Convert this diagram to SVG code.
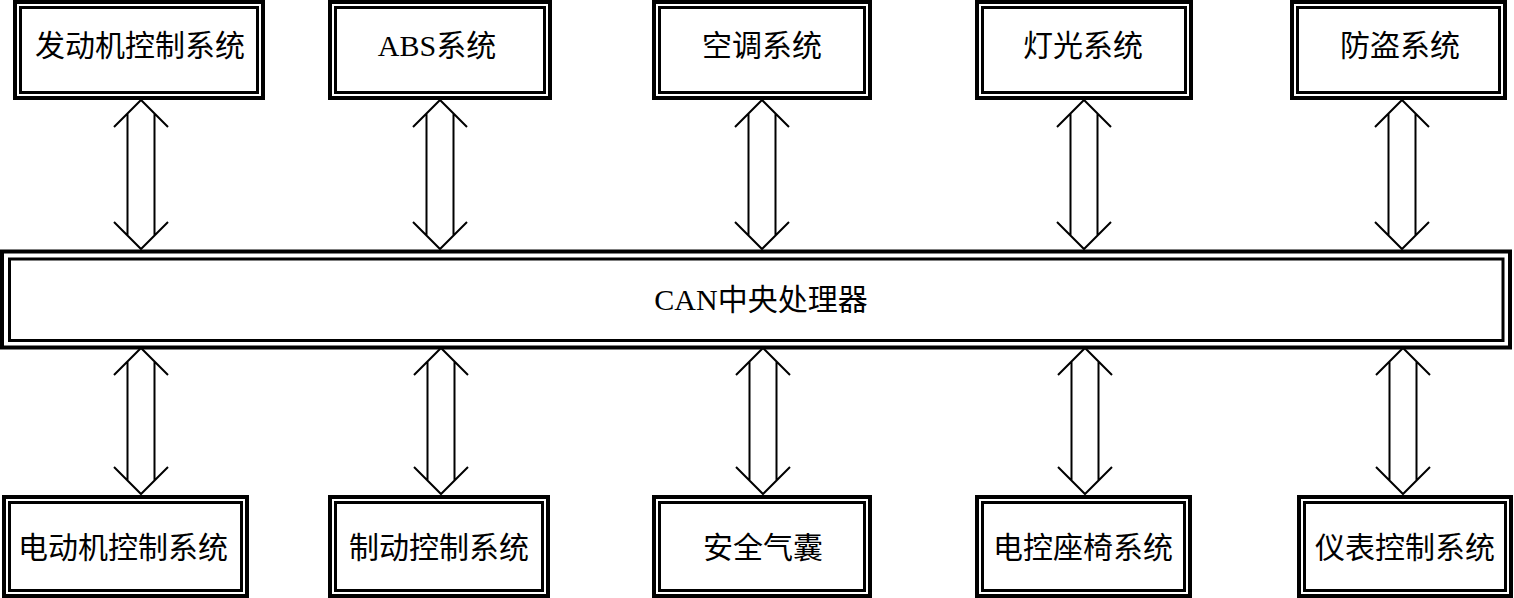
<svg xmlns="http://www.w3.org/2000/svg" width="1514" height="598" viewBox="0 0 1514 598">
<style>
.o{fill:#fff;stroke:#000;stroke-width:4}
.i{fill:none;stroke:#000;stroke-width:3}
.t{font-family:"Liberation Serif","Noto Sans CJK SC",serif;font-size:30px;fill:#000;text-anchor:middle;dominant-baseline:central}
.a{fill:none;stroke:#000;stroke-width:2}
</style>
<defs>
<path id="arrT" d="M-27,127 L0,100 L27,127 M-13.5,113.5 V235.5 M13.5,113.5 V235.5 M-27,222 L0,249 L27,222"/>
<path id="arrB" d="M-27,375 L0,348 L27,375 M-13.5,361.5 V480.5 M13.5,361.5 V480.5 M-27,467 L0,494 L27,467"/>
</defs>
<rect width="1514" height="598" fill="#fff"/>
<g id="connectors" class="a">
<use href="#arrT" x="141"/>
<use href="#arrT" x="440"/>
<use href="#arrT" x="762"/>
<use href="#arrT" x="1084"/>
<use href="#arrT" x="1402"/>
<use href="#arrB" x="141"/>
<use href="#arrB" x="441"/>
<use href="#arrB" x="763"/>
<use href="#arrB" x="1085"/>
<use href="#arrB" x="1403"/>
</g>
<g id="can">
<rect class="o" x="2" y="251.5" width="1508" height="96"/>
<rect class="i" x="9.5" y="259" width="1493.5" height="81.5"/>
<text class="t" x="761" y="299">CAN中央处理器</text>
</g>
<g id="engine">
<rect class="o" x="15" y="2" width="248" height="96"/>
<rect class="i" x="20.5" y="7.5" width="237" height="85"/>
<text class="t" x="140" y="45">发动机控制系统</text>
</g>
<g id="abs">
<rect class="o" x="330" y="2" width="220" height="96"/>
<rect class="i" x="335.5" y="7.5" width="209" height="85"/>
<text class="t" x="437" y="45">ABS系统</text>
</g>
<g id="ac">
<rect class="o" x="654" y="2" width="216" height="96"/>
<rect class="i" x="659.5" y="7.5" width="205" height="85"/>
<text class="t" x="762" y="45">空调系统</text>
</g>
<g id="light">
<rect class="o" x="977" y="2" width="214" height="96"/>
<rect class="i" x="982.5" y="7.5" width="203" height="85"/>
<text class="t" x="1083" y="45">灯光系统</text>
</g>
<g id="antitheft">
<rect class="o" x="1292" y="2" width="213" height="96"/>
<rect class="i" x="1297.5" y="7.5" width="202" height="85"/>
<text class="t" x="1400" y="45">防盗系统</text>
</g>
<g id="motor">
<rect class="o" x="4" y="497" width="243" height="99"/>
<rect class="i" x="9.5" y="502.5" width="232" height="88"/>
<text class="t" x="123" y="547">电动机控制系统</text>
</g>
<g id="brake">
<rect class="o" x="330" y="497" width="218" height="99"/>
<rect class="i" x="335.5" y="502.5" width="207" height="88"/>
<text class="t" x="439" y="547">制动控制系统</text>
</g>
<g id="airbag">
<rect class="o" x="654" y="497" width="216" height="99"/>
<rect class="i" x="659.5" y="502.5" width="205" height="88"/>
<text class="t" x="763" y="547">安全气囊</text>
</g>
<g id="seat">
<rect class="o" x="977" y="497" width="213" height="99"/>
<rect class="i" x="982.5" y="502.5" width="202" height="88"/>
<text class="t" x="1083" y="547">电控座椅系统</text>
</g>
<g id="instrument">
<rect class="o" x="1299" y="497" width="212" height="99"/>
<rect class="i" x="1304.5" y="502.5" width="201" height="88"/>
<text class="t" x="1405" y="547">仪表控制系统</text>
</g>
</svg>
